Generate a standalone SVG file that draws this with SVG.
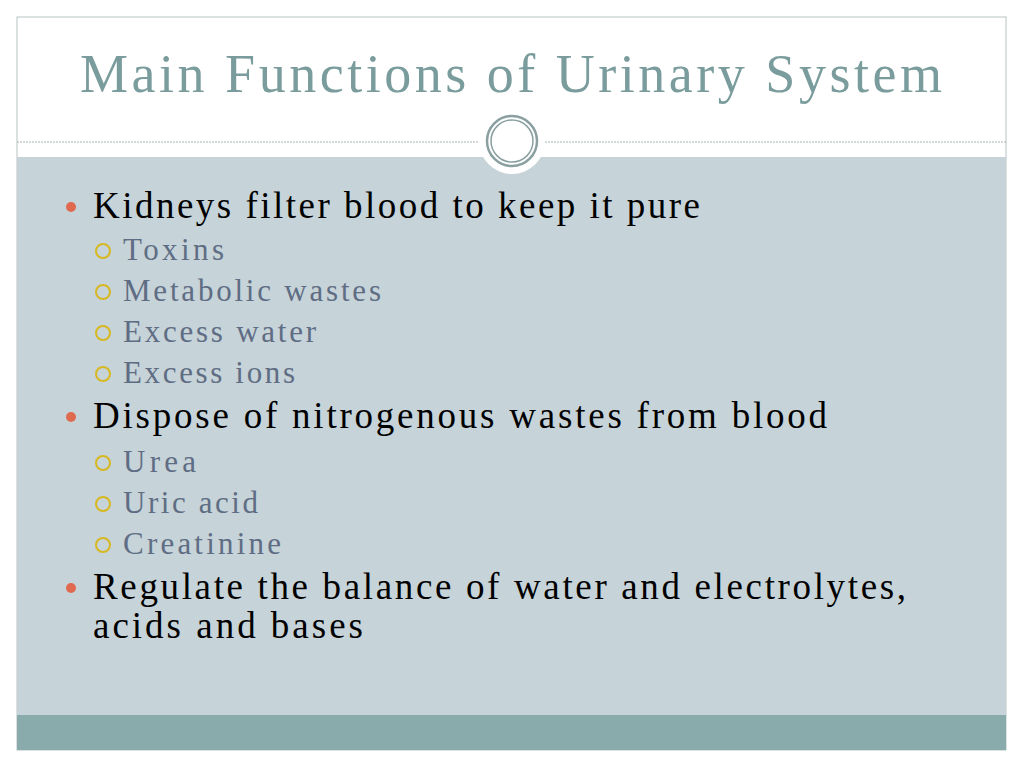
<svg xmlns="http://www.w3.org/2000/svg" width="1024" height="768" viewBox="0 0 1024 768">
<style>
.t{font-family:"Liberation Serif","DejaVu Serif",serif}
.m{font-size:37px;fill:#000}
.s{font-size:31px;fill:#5f6d84}
.d{fill:#e06a50}
.c{fill:none;stroke:#d8b820;stroke-width:2}
</style>
<rect width="1024" height="768" fill="#fff"/>
<rect x="17" y="17" width="989" height="733" fill="#fff" stroke="#b8c4c4"/>
<rect x="17" y="157" width="989" height="558" fill="#c6d3d8"/>
<rect x="17" y="715" width="989" height="35" fill="#8aabab"/>
<line x1="17" y1="142" x2="1006" y2="142" stroke="#a8b4b4" stroke-dasharray="2,1"/>
<g id="emblem">
<circle cx="512" cy="141" r="33" fill="#fff"/>
<circle cx="512" cy="141" r="25" fill="none" stroke="#8aa0a0" stroke-width="2.5"/>
<circle cx="512" cy="141" r="21" fill="none" stroke="#8aa0a0" stroke-width="1.5"/>
</g>
<text class="t" x="80" y="92" font-size="54" fill="#7a9c9c" textLength="862">Main Functions of Urinary System</text>
<g id="list">
<circle class="d" cx="71" cy="207" r="5"/>
<text class="t m" x="93" y="218" textLength="607">Kidneys filter blood to keep it pure</text>
<circle class="c" cx="103" cy="251" r="7"/><text class="t s" x="123" y="260" textLength="101">Toxins</text>
<circle class="c" cx="103" cy="292" r="7"/><text class="t s" x="123" y="301" textLength="258">Metabolic wastes</text>
<circle class="c" cx="103" cy="333" r="7"/><text class="t s" x="123" y="342" textLength="193">Excess water</text>
<circle class="c" cx="103" cy="374" r="7"/><text class="t s" x="123" y="383" textLength="172">Excess ions</text>
<circle class="d" cx="71" cy="417" r="5"/>
<text class="t m" x="93" y="428" textLength="734">Dispose of nitrogenous wastes from blood</text>
<circle class="c" cx="103" cy="463" r="7"/><text class="t s" x="123" y="472" textLength="73">Urea</text>
<circle class="c" cx="103" cy="504" r="7"/><text class="t s" x="123" y="513" textLength="135">Uric acid</text>
<circle class="c" cx="103" cy="545" r="7"/><text class="t s" x="123" y="554" textLength="158">Creatinine</text>
<circle class="d" cx="71" cy="588" r="5"/>
<text class="t m" x="93" y="599" textLength="813">Regulate the balance of water and electrolytes,</text>
<text class="t m" x="93" y="638" textLength="270">acids and bases</text>
</g>
</svg>
